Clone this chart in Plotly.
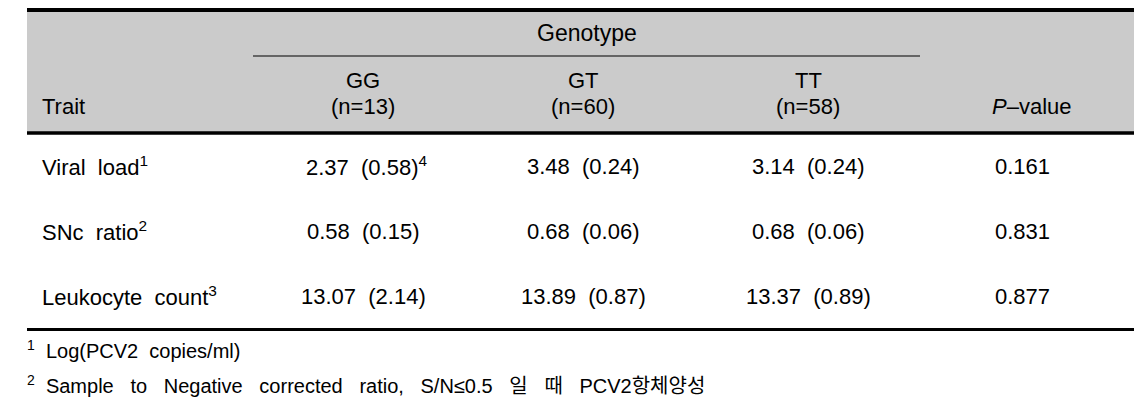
import plotly.graph_objects as go

# ---------------- data ----------------
traits = ["Viral load", "SNc ratio", "Leukocyte count"]
trait_notes = ["1", "2", "3"]
genotypes = ["GG", "GT", "TT"]
n_counts = [13, 60, 58]
gg_mean = [2.37, 0.58, 13.07]
gg_se = [0.58, 0.15, 2.14]
gt_mean = [3.48, 0.68, 13.89]
gt_se = [0.24, 0.06, 0.87]
tt_mean = [3.14, 0.68, 13.37]
tt_se = [0.24, 0.06, 0.89]
p_values = [0.161, 0.831, 0.877]
cell_notes = [["4", "", ""], ["", "", ""], ["", "", ""]]  # [row][genotype]
footnotes = ["Log(PCV2 copies/ml)",
             "Sample to Negative corrected ratio, S/N≤0.5 일 때 PCV2항체양성"]
footnote_gaps = [2, 3]

# ---------------- layout constants ----------------
W, H = 1142, 417
PAGE_OFF = 8  # default page body margin
LEFT, RIGHT = 27, 1137
TOP = 10
HEAD_BOTTOM = 133
BOTTOM = 329.5
GENO_LINE_Y = 56
GENO_X0, GENO_X1 = 253, 920
TRAIT_X = 40
COL_X = [363, 583, 808]
P_X = 1022
ROW_Y0, ROW_PITCH = 166, 65
FONT = "Liberation Sans, Arial, Noto Sans CJK KR, sans-serif"
FS = 22
FS_NOTE = 20
GRAY = "#cbcbcb"

SP = "\u00a0"


def wide(s, n=2):
    return s.replace(" ", SP * (n - 1) + " ")


fig = go.Figure()
fig.add_trace(go.Scatter(x=[PAGE_OFF, W + PAGE_OFF], y=[PAGE_OFF, H + PAGE_OFF], mode="markers",
                         marker=dict(opacity=0), hoverinfo="skip", showlegend=False))

# header background and rules
fig.add_shape(type="rect", x0=LEFT, x1=RIGHT, y0=TOP, y1=HEAD_BOTTOM,
              fillcolor=GRAY, line=dict(width=0), layer="below")
fig.add_shape(type="line", x0=LEFT, x1=RIGHT, y0=TOP, y1=TOP,
              line=dict(color="black", width=4))
fig.add_shape(type="line", x0=LEFT, x1=RIGHT, y0=HEAD_BOTTOM, y1=HEAD_BOTTOM,
              line=dict(color="black", width=3.5))
fig.add_shape(type="line", x0=GENO_X0, x1=GENO_X1, y0=GENO_LINE_Y, y1=GENO_LINE_Y,
              line=dict(color="black", width=1.2))
fig.add_shape(type="line", x0=LEFT, x1=RIGHT, y0=BOTTOM, y1=BOTTOM,
              line=dict(color="black", width=3))


def txt(x, y, s, anchor="center", size=FS):
    fig.add_annotation(x=x, y=y, text=s, showarrow=False, xanchor=anchor,
                       yanchor="middle", font=dict(family=FONT, size=size, color="black"))


# header text
txt((GENO_X0 + GENO_X1) / 2, 33, "Genotype", size=23)
for i, g in enumerate(genotypes):
    txt(COL_X[i], 80, g)
    txt(COL_X[i], 106, f"(n={n_counts[i]})")
txt(TRAIT_X, 106, "Trait", anchor="left")
txt(P_X + 10, 106, "<i>P</i>–value")

means = [gg_mean, gt_mean, tt_mean]
ses = [gg_se, gt_se, tt_se]
for r, t in enumerate(traits):
    y = ROW_Y0 + r * ROW_PITCH
    txt(TRAIT_X, y, f"{wide(t)}<sup>{trait_notes[r]}</sup>", anchor="left")
    for c in range(3):
        s = f"{means[c][r]:.2f}{SP} ({ses[c][r]:.2f})"
        note = cell_notes[r][c]
        if note:
            s += f"<sup>{note}</sup>"
            txt(COL_X[c] + 4, y, s)
        else:
            txt(COL_X[c], y, s)
    txt(P_X, y, f"{p_values[r]:.3f}")

# footnotes
for k, f in enumerate(footnotes):
    fig.add_annotation(x=LEFT - 2, y=349 + k * 35,
                       text=f"<sup>{k + 1}</sup>{SP}{SP}{wide(f, footnote_gaps[k])}",
                       showarrow=False, xanchor="left", yanchor="middle",
                       font=dict(family=FONT, size=FS_NOTE, color="black"))

fig.update_layout(
    width=W, height=H, margin=dict(l=0, r=0, t=0, b=0),
    paper_bgcolor="white", plot_bgcolor="white",
    xaxis=dict(range=[PAGE_OFF, W + PAGE_OFF], visible=False, fixedrange=True),
    yaxis=dict(range=[H + PAGE_OFF, PAGE_OFF], visible=False, fixedrange=True),
    showlegend=False,
)
fig.write_html("out.html")
